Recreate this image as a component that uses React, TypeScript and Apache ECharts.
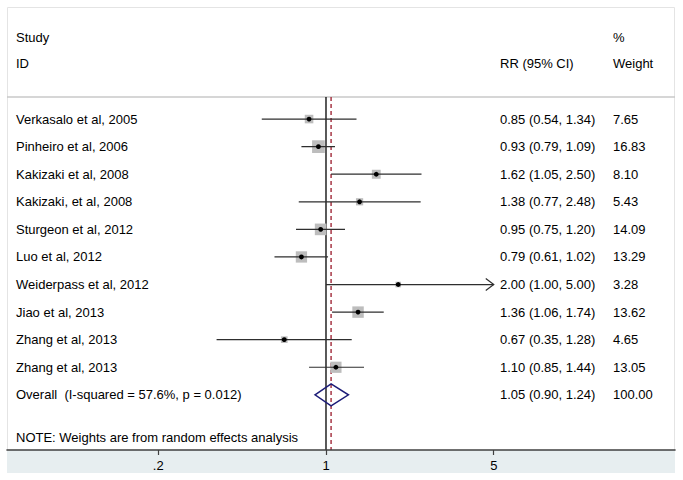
import React, { useEffect, useRef } from 'react';
import * as echarts from 'echarts';

const studies = [
  'Verkasalo et al, 2005',
  'Pinheiro et al, 2006',
  'Kakizaki et al, 2008',
  'Kakizaki, et al, 2008',
  'Sturgeon et al, 2012',
  'Luo et al, 2012',
  'Weiderpass et al, 2012',
  'Jiao et al, 2013',
  'Zhang et al, 2013',
  'Zhang et al, 2013',
];
const rr = [0.85, 0.93, 1.62, 1.38, 0.95, 0.79, 2.0, 1.36, 0.67, 1.1];
const lower = [0.54, 0.79, 1.05, 0.77, 0.75, 0.61, 1.0, 1.06, 0.35, 0.85];
const upper = [1.34, 1.09, 2.5, 2.48, 1.2, 1.02, 5.0, 1.74, 1.28, 1.44];
const weights = [7.65, 16.83, 8.1, 5.43, 14.09, 13.29, 3.28, 13.62, 4.65, 13.05];

const overallLabel = 'Overall  (I-squared = 57.6%, p = 0.012)';
const overallRR = [1.05];
const overallLower = [0.9];
const overallUpper = [1.24];
const overallWeight = [100.0];

const tickValues = [0.2, 1, 5];
const tickLabels = ['.2', '1', '5'];
const noteText = 'NOTE: Weights are from random effects analysis';

const FONT = '13px "Liberation Sans", Arial, sans-serif';
const TEXT = '#000000';
const X_MIN = 0.04686;
const X_MAX = 28.46;
const PLOT_MAX = 5;
const Y_MIN = -0.8;
const Y_MAX = 12;
const NAME_X = 16;
const CI_X = 500;
const W_X = 613;

const fmt = (v: number) => v.toFixed(2);

export default function App() {
  const ref = useRef<HTMLDivElement>(null);
  useEffect(() => {
    if (!ref.current) return;
    const chart = echarts.init(ref.current, null, { renderer: 'svg' });

    const studyData = studies.map((_, i) => [rr[i], i, lower[i], upper[i], weights[i]]);
    const overallData = [[overallRR[0], studies.length, overallLower[0], overallUpper[0], overallWeight[0]]];

    const txt = (text: string, x: number, y: number) => ({
      type: 'text',
      x,
      y,
      style: { text, font: FONT, fill: TEXT, align: 'left', verticalAlign: 'middle' },
    });

    const option: any = {
      animation: false,
      backgroundColor: '#ffffff',
      grid: { left: 7, right: 8, top: 97, bottom: 30, containLabel: false },
      xAxis: {
        type: 'log',
        logBase: 10,
        min: X_MIN,
        max: X_MAX,
        z: 5,
        position: 'bottom',
        axisLine: { show: true, onZero: false, lineStyle: { color: '#404040', width: 1.6 } },
        axisTick: {
          show: true,
          customValues: tickValues,
          length: 5,
          lineStyle: { color: '#404040', width: 1.2 },
        },
        axisLabel: {
          show: true,
          customValues: tickValues,
          margin: 9,
          color: TEXT,
          fontSize: 13,
          fontFamily: '"Liberation Sans", Arial, sans-serif',
          formatter: (v: number) => {
            const idx = tickValues.findIndex((t) => Math.abs(t - v) < 1e-9);
            return idx >= 0 ? tickLabels[idx] : '';
          },
        },
        splitLine: { show: false },
        minorTick: { show: false },
      },
      yAxis: {
        type: 'value',
        inverse: true,
        min: Y_MIN,
        max: Y_MAX,
        show: false,
        splitLine: { show: false },
      },
      graphic: [
        {
          type: 'rect',
          z: -20,
          shape: { x: 7, y: 450, width: 668, height: 23 },
          style: { fill: '#e7eef0' },
        },
        {
          type: 'rect',
          z: -21,
          shape: { x: 7.5, y: 7.5, width: 667, height: 465 },
          style: { fill: 'none', stroke: '#e4e4e4', lineWidth: 1 },
        },
        {
          type: 'line',
          z: -5,
          shape: { x1: 7, y1: 97, x2: 675, y2: 97 },
          style: { stroke: '#c9c9c9', lineWidth: 1.4 },
        },
        txt('Study', NAME_X, 37),
        txt('ID', NAME_X, 63),
        txt('RR (95% CI)', CI_X, 63),
        txt('%', W_X, 37),
        txt('Weight', W_X, 63),
        txt(noteText, NAME_X, 437),
      ],
      series: [
        {
          type: 'line',
          z: 1,
          symbol: 'none',
          silent: true,
          data: [
            [1, Y_MIN],
            [1, Y_MAX],
          ],
          lineStyle: { color: '#000000', width: 1.3 },
        },
        {
          type: 'line',
          z: 1,
          symbol: 'none',
          silent: true,
          data: [
            [overallRR[0], Y_MIN],
            [overallRR[0], Y_MAX],
          ],
          lineStyle: { color: '#a02838', width: 1.4, type: [4, 3] },
        },
        {
          type: 'custom',
          z: 3,
          silent: true,
          data: studyData,
          renderItem: (params: any, api: any) => {
            const est = api.value(0);
            const i = api.value(1);
            const lo = api.value(2);
            const hi = api.value(3);
            const w = api.value(4);
            const p = api.coord([est, i]);
            const pl = api.coord([lo, i]);
            const clipped = hi >= PLOT_MAX;
            const ph = api.coord([Math.min(hi, PLOT_MAX), i]);
            const side = 3.1 * Math.sqrt(w);
            const children: any[] = [
              {
                type: 'rect',
                shape: { x: p[0] - side / 2, y: p[1] - side / 2, width: side, height: side },
                style: { fill: '#bdbdbd' },
              },
              {
                type: 'line',
                shape: { x1: pl[0], y1: p[1], x2: ph[0], y2: p[1] },
                style: { stroke: '#2e2e2e', lineWidth: 1.2 },
              },
              {
                type: 'circle',
                shape: { cx: p[0], cy: p[1], r: 2.4 },
                style: { fill: '#000000' },
              },
              txt(studies[i], NAME_X, p[1]),
              txt(`${fmt(est)} (${fmt(lo)}, ${fmt(hi)})`, CI_X, p[1]),
              txt(fmt(w), W_X, p[1]),
            ];
            if (clipped) {
              children.push({
                type: 'polyline',
                shape: {
                  points: [
                    [ph[0] - 8, p[1] - 6],
                    [ph[0], p[1]],
                    [ph[0] - 8, p[1] + 6],
                  ],
                },
                style: { stroke: '#2e2e2e', fill: 'none', lineWidth: 1.2 },
              });
            }
            return { type: 'group', children };
          },
        },
        {
          type: 'custom',
          z: 3,
          silent: true,
          data: overallData,
          renderItem: (params: any, api: any) => {
            const est = api.value(0);
            const i = api.value(1);
            const lo = api.value(2);
            const hi = api.value(3);
            const w = api.value(4);
            const p = api.coord([est, i]);
            const pl = api.coord([lo, i]);
            const ph = api.coord([hi, i]);
            const h = 11;
            return {
              type: 'group',
              children: [
                {
                  type: 'polygon',
                  shape: {
                    points: [
                      [pl[0], p[1]],
                      [p[0], p[1] - h],
                      [ph[0], p[1]],
                      [p[0], p[1] + h],
                    ],
                  },
                  style: { fill: 'none', stroke: '#1c1c78', lineWidth: 1.5 },
                },
                txt(overallLabel, NAME_X, p[1]),
                txt(`${fmt(est)} (${fmt(lo)}, ${fmt(hi)})`, CI_X, p[1]),
                txt(fmt(w), W_X, p[1]),
              ],
            };
          },
        },
      ],
    };

    chart.setOption(option);
    return () => chart.dispose();
  }, []);

  return (
    <div
      ref={ref}
      style={{ position: 'absolute', left: 0, top: 0, width: 683, height: 480 }}
    />
  );
}
